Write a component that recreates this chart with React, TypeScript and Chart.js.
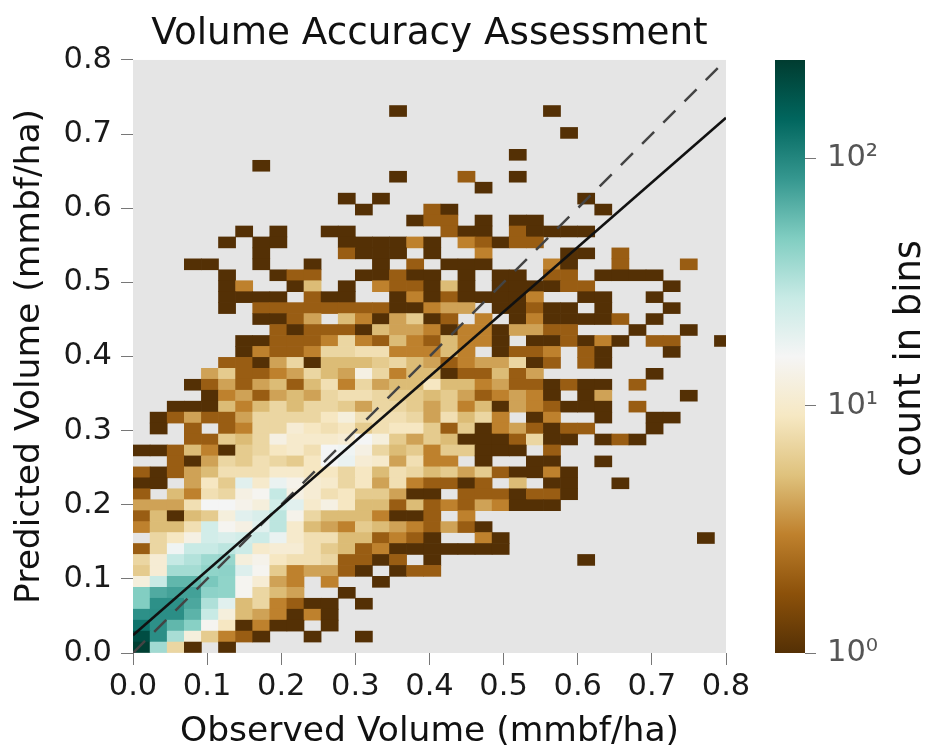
import React, { useEffect, useRef } from "react";
import { Chart, registerables } from "chart.js";

Chart.register(...registerables);

const chartTitle = "Volume Accuracy Assessment";
const xAxisTitle = "Observed Volume (mmbf/ha)";
const yAxisTitle = "Predicted Volume (mmbf/ha)";
const colorbarTitle = "count in bins";

const xBinWidth = 0.02307;
const yBinWidth = 0.01477;
const vmax = 250;

const oneToOneX = [0, 0.8];
const oneToOneY = [0, 0.8];
const fitX = [0, 0.8];
const fitY = [0.024, 0.722];

const colorbarTicks = [1, 10, 100];
const colorbarTickLabels = ["10\u2070", "10\u00B9", "10\u00B2"];

const brbg = ["#543005", "#8c510a", "#bf812d", "#dfc27d", "#f6e8c3", "#f5f5f5", "#c7eae5", "#80cdc1", "#35978f", "#01665e", "#003c30"];

// first list is the row whose lower edge is 49 bins above zero, last list is the bottom row
const counts: number[][] = [
  [0,0,0,0,0, 0,0,0,0,0, 0,0,0,0,0, 1,0,0,0,0, 0,0,0,0,1, 0,0,0,0,0, 0,0,0,0,0],
  [0,0,0,0,0, 0,0,0,0,0, 0,0,0,0,0, 0,0,0,0,0, 0,0,0,0,0, 0,0,0,0,0, 0,0,0,0,0],
  [0,0,0,0,0, 0,0,0,0,0, 0,0,0,0,0, 0,0,0,0,0, 0,0,0,0,0, 1,0,0,0,0, 0,0,0,0,0],
  [0,0,0,0,0, 0,0,0,0,0, 0,0,0,0,0, 0,0,0,0,0, 0,0,0,0,0, 0,0,0,0,0, 0,0,0,0,0],
  [0,0,0,0,0, 0,0,0,0,0, 0,0,0,0,0, 0,0,0,0,0, 0,0,1,0,0, 0,0,0,0,0, 0,0,0,0,0],
  [0,0,0,0,0, 0,0,1,0,0, 0,0,0,0,0, 0,0,0,0,0, 0,0,0,0,0, 0,0,0,0,0, 0,0,0,0,0],
  [0,0,0,0,0, 0,0,0,0,0, 0,0,0,0,0, 1,0,0,0,2, 0,0,1,0,0, 0,0,0,0,0, 0,0,0,0,0],
  [0,0,0,0,0, 0,0,0,0,0, 0,0,0,0,0, 0,0,0,0,0, 1,0,0,0,0, 0,0,0,0,0, 0,0,0,0,0],
  [0,0,0,0,0, 0,0,0,0,0, 0,0,1,0,1, 0,0,0,0,0, 0,0,0,0,0, 0,1,0,0,0, 0,0,0,0,0],
  [0,0,0,0,0, 0,0,0,0,0, 0,0,0,1,0, 0,0,2,1,0, 0,0,0,0,0, 0,0,1,0,0, 0,0,0,0,0],
  [0,0,0,0,0, 0,0,0,0,0, 0,0,0,0,0, 0,1,2,2,0, 1,0,1,1,0, 0,0,0,0,0, 0,0,0,0,0],
  [0,0,0,0,0, 0,1,0,1,0, 0,1,1,0,0, 0,0,0,2,1, 1,0,2,1,1, 1,1,0,0,0, 0,0,0,0,0],
  [0,0,0,0,0, 1,0,1,1,0, 0,0,1,1,1, 1,3,1,0,3, 2,1,2,2,0, 0,0,0,0,0, 0,0,0,0,0],
  [0,0,0,0,0, 0,0,1,0,0, 0,0,2,1,1, 1,0,1,0,0, 3,0,0,0,0, 1,1,0,2,0, 0,0,0,0,0],
  [0,0,0,1,1, 0,0,1,0,0, 1,0,0,0,1, 0,2,0,1,1, 1,0,0,0,3, 1,0,0,2,0, 0,0,2,0,0],
  [0,0,0,0,0, 1,0,0,1,2, 2,0,0,1,1, 2,1,1,0,1, 0,1,1,0,2, 2,0,1,1,1, 1,0,0,0,0],
  [0,0,0,0,0, 1,3,0,0,1, 5,0,1,0,3, 2,2,1,5,1, 0,1,1,1,1, 2,2,0,0,0, 0,1,0,0,0],
  [0,0,0,0,0, 1,1,1,1,0, 2,1,1,0,0, 1,3,1,2,1, 1,1,1,3,0, 0,1,1,0,0, 1,0,0,0,0],
  [0,0,0,0,0, 1,0,2,2,2, 2,2,2,2,2, 1,1,3,4,4, 0,1,1,2,1, 1,0,1,0,0, 0,1,0,0,0],
  [0,0,0,0,0, 0,0,1,1,2, 4,0,5,3,1, 4,6,1,2,0, 3,0,1,3,1, 1,1,1,2,0, 1,0,0,0,0],
  [0,0,0,0,0, 0,0,0,2,1, 2,2,2,1,5, 4,4,3,1,3, 3,1,4,4,2, 2,0,0,0,1, 0,0,1,0,0],
  [0,0,0,0,0, 0,1,1,2,2, 2,3,7,3,2, 5,3,2,5,3, 3,1,0,1,1, 2,1,3,1,0, 2,2,0,0,1],
  [0,0,0,0,0, 0,1,3,2,2, 3,7,7,8,8, 3,3,3,5,3, 0,1,2,2,3, 0,2,1,0,0, 0,1,0,0,0],
  [0,0,0,0,0, 2,2,1,4,7, 1,5,5,5,6, 7,5,4,2,3, 4,4,7,1,2, 0,2,1,0,0, 0,0,0,0,0],
  [0,0,0,0,4, 6,2,2,3,4, 7,5,4,13,7, 3,5,5,1,2, 2,5,2,4,0, 0,0,0,0,0, 1,0,0,0,0],
  [0,0,0,1,2, 4,2,4,5,2, 5,8,3,7,4, 5,5,9,5,5, 3,4,2,2,1, 2,1,1,0,2, 0,0,0,0,0],
  [0,0,0,0,1, 3,4,2,4,5, 4,7,8,8,7, 6,6,5,6,4, 2,3,4,3,1, 0,1,4,0,0, 0,0,1,0,0],
  [0,0,1,1,1, 5,3,5,7,5, 7,7,6,4,7, 7,6,4,6,3, 5,1,4,3,2, 1,1,1,0,2, 0,0,0,0,0],
  [0,1,2,4,2, 2,4,7,7,7, 7,9,12,8,8, 8,7,4,8,5, 7,3,0,1,3, 0,0,1,0,0, 1,1,0,0,0],
  [0,1,0,2,0, 2,3,7,7,11, 9,8,9,6,8, 9,9,6,2,6, 1,3,4,2,1, 2,2,0,0,0, 1,0,0,0,0],
  [0,0,0,2,2, 6,5,7,13,10, 10,10,11,16,12, 6,4,6,5,1, 1,1,2,7,1, 1,0,1,2,1, 0,0,0,0,0],
  [1,1,2,5,3, 1,6,7,9,10, 8,16,17,13,7, 5,6,3,6,6, 1,1,1,0,2, 0,0,0,0,0, 0,0,0,0,0],
  [0,0,2,1,4, 7,6,8,7,6, 9,16,18,11,10, 4,8,3,3,0, 1,0,0,1,1, 0,0,1,0,0, 0,0,0,0,0],
  [2,1,2,4,5, 8,8,8,10,10, 9,9,7,9,5, 8,7,5,6,4, 6,2,1,1,3, 1,0,0,0,0, 0,0,0,0,0],
  [1,1,0,4,9, 6,20,10,18,14, 11,10,7,9,4, 8,3,2,2,1, 2,0,5,0,1, 1,0,0,1,0, 0,0,0,0,0],
  [2,0,5,3,8, 7,13,15,28,13, 11,8,9,6,6, 4,1,1,0,2, 2,2,1,2,2, 1,0,0,0,0, 0,0,0,0,0],
  [4,4,4,8,16, 16,14,12,24,20, 10,13,9,5,5, 2,5,2,3,2, 4,3,1,1,1, 0,0,0,0,0, 0,0,0,0,0],
  [2,5,1,5,6, 12,20,22,30,14, 7,5,5,5,3, 1,1,2,0,3, 0,0,0,0,0, 0,0,0,0,0, 0,0,0,0,0],
  [3,5,5,8,24, 15,13,20,30,10, 5,4,3,6,5, 4,3,2,4,2, 1,0,0,0,0, 0,0,0,0,0, 0,0,0,0,0],
  [0,7,9,13,24, 22,24,26,18,10, 8,8,5,5,2, 3,2,1,0,0, 3,1,0,0,0, 0,0,0,0,0, 0,0,0,1,0],
  [2,7,17,27,27, 30,26,10,11,11, 8,6,5,2,3, 1,1,1,1,1, 1,1,0,0,0, 0,0,0,0,0, 0,0,0,0,0],
  [7,11,28,32,38, 40,12,14,9,8, 8,7,2,2,1, 2,0,1,0,0, 0,0,0,0,0, 0,1,0,0,0, 0,0,0,0,0],
  [6,11,36,36,42, 43,21,15,6,3, 4,4,2,1,0, 1,2,2,0,0, 0,0,0,0,0, 0,0,0,0,0, 0,0,0,0,0],
  [12,27,60,60,50, 42,15,11,4,3, 0,3,0,0,1, 0,0,0,0,0, 0,0,0,0,0, 0,0,0,0,0, 0,0,0,0,0],
  [47,68,75,75,43, 42,15,7,5,4, 0,0,1,0,0, 0,0,0,0,0, 0,0,0,0,0, 0,0,0,0,0, 0,0,0,0,0],
  [47,90,90,70,33, 20,5,7,3,2, 1,1,0,1,0, 0,0,0,0,0, 0,0,0,0,0, 0,0,0,0,0, 0,0,0,0,0],
  [90,92,92,62,27, 12,5,4,3,1, 3,1,0,0,0, 0,0,0,0,0, 0,0,0,0,0, 0,0,0,0,0, 0,0,0,0,0],
  [125,90,60,45,15, 9,1,3,1,1, 0,1,0,0,0, 0,0,0,0,0, 0,0,0,0,0, 0,0,0,0,0, 0,0,0,0,0],
  [200,92,35,12,6, 3,2,1,0,0, 1,0,0,1,0, 0,0,0,0,0, 0,0,0,0,0, 0,0,0,0,0, 0,0,0,0,0],
  [240,37,7,1,0, 1,0,0,0,0, 0,0,0,0,0, 0,0,0,0,0, 0,0,0,0,0, 0,0,0,0,0, 0,0,0,0,0],
];

const FONT = "'DejaVu Sans', sans-serif";

function hexToRgb(h: string): number[] {
  return [1, 3, 5].map((i) => parseInt(h.slice(i, i + 2), 16));
}

function colorFor(v: number): string {
  const t = Math.min(1, Math.log(v) / Math.log(vmax)) * (brbg.length - 1);
  const i = Math.min(brbg.length - 2, Math.floor(t));
  const f = t - i;
  const a = hexToRgb(brbg[i]);
  const b = hexToRgb(brbg[i + 1]);
  return `rgb(${a.map((c, k) => Math.round(c + (b[k] - c) * f)).join(",")})`;
}

function cellData() {
  const cells: { x: number; y: number[]; v: number }[] = [];
  const nRows = counts.length;
  counts.forEach((row, i) => {
    const r = nRows - 1 - i;
    row.forEach((v, c) => {
      if (v > 0) cells.push({ x: (c + 0.5) * xBinWidth, y: [r * yBinWidth, (r + 1) * yBinWidth], v });
    });
  });
  return cells;
}

const plotBackground = {
  id: "plotBackground",
  beforeDraw(chart: any) {
    const { ctx, chartArea: a } = chart;
    ctx.save();
    ctx.fillStyle = "#e5e5e5";
    ctx.fillRect(a.left, a.top, a.right - a.left, a.bottom - a.top);
    ctx.restore();
  },
};

const colorbarLabel = {
  id: "colorbarLabel",
  afterDraw(chart: any) {
    const { ctx, chartArea: a } = chart;
    ctx.save();
    ctx.translate(160, (a.top + a.bottom) / 2 + 2);
    ctx.rotate(-Math.PI / 2);
    ctx.font = `36.8px ${FONT}`;
    ctx.fillStyle = "#111";
    ctx.textAlign = "center";
    ctx.textBaseline = "alphabetic";
    ctx.fillText(colorbarTitle, 0, 0);
    ctx.restore();
  },
};

export default function App() {
  const mainRef = useRef<HTMLCanvasElement>(null);
  const barRef = useRef<HTMLCanvasElement>(null);

  useEffect(() => {
    const tick = { size: 30.5, family: FONT };
    const axisTitleFont = { size: 34.5, family: FONT, lineHeight: 0.85 };
    const axisGrid = { drawOnChartArea: false, drawTicks: true, tickLength: 12, color: "#777", lineWidth: 1 };

    const main = new Chart(mainRef.current!, {
      type: "bar",
      data: {
        datasets: [
          {
            type: "line",
            data: oneToOneX.map((x, i) => ({ x, y: oneToOneY[i] })),
            borderColor: "#444",
            borderWidth: 2.5,
            borderDash: [17, 13],
            pointRadius: 0,
            order: 1,
          },
          {
            type: "line",
            data: fitX.map((x, i) => ({ x, y: fitY[i] })),
            borderColor: "#111",
            borderWidth: 2.5,
            pointRadius: 0,
            order: 0,
          },
          {
            type: "bar",
            data: cellData(),
            backgroundColor: (c: any) => colorFor(c.raw ? c.raw.v : 1),
            borderWidth: 0,
            barThickness: 17.1,
            grouped: false,
            clip: 0,
            order: 2,
          },
        ] as any,
      },
      options: {
        responsive: false,
        animation: false,
        events: [],
        layout: { padding: { right: 34, left: 0, top: 0, bottom: 0 } },
        plugins: {
          legend: { display: false },
          tooltip: { enabled: false },
          title: {
            display: true,
            text: chartTitle,
            fullSize: false,
            color: "#111",
            font: { size: 37.3, family: FONT, weight: "normal", lineHeight: 1.2 },
            padding: { top: 12, bottom: 3.2 },
          },
        },
        scales: {
          x: {
            type: "linear",
            min: 0,
            max: 0.8,
            offset: false,
            grid: { ...axisGrid, offset: false },
            border: { display: false },
            afterFit: (s: any) => { s.height = 94; },
            ticks: { stepSize: 0.1, autoSkip: false, maxRotation: 0, font: tick, color: "#1a1a1a", padding: 4, callback: (v: any) => Number(v).toFixed(1) },
            title: { display: true, text: xAxisTitle, color: "#111", font: axisTitleFont, padding: 0 },
          },
          y: {
            type: "linear",
            min: 0,
            max: 0.8,
            grid: axisGrid,
            border: { display: false },
            afterFit: (s: any) => { s.width = 133; },
            ticks: { stepSize: 0.1, autoSkip: false, font: tick, color: "#1a1a1a", padding: 9, callback: (v: any) => Number(v).toFixed(1) },
            title: { display: true, text: yAxisTitle, color: "#111", font: axisTitleFont, padding: 15 },
          },
        },
      } as any,
      plugins: [plotBackground],
    });

    const bar = new Chart(barRef.current!, {
      type: "bar",
      data: {
        labels: ["count"],
        datasets: [
          {
            data: [[1, vmax]],
            barPercentage: 1,
            categoryPercentage: 1,
            borderWidth: 0,
            backgroundColor: (c: any) => {
              const a = c.chart.chartArea;
              if (!a) return "#000";
              const g = c.chart.ctx.createLinearGradient(0, a.bottom, 0, a.top);
              brbg.forEach((col, i) => g.addColorStop(i / (brbg.length - 1), col));
              return g;
            },
          },
        ] as any,
      },
      options: {
        responsive: false,
        animation: false,
        events: [],
        layout: { padding: { left: 15, top: 60, bottom: 94, right: 0 } },
        plugins: { legend: { display: false }, tooltip: { enabled: false } },
        scales: {
          x: { display: false },
          y: {
            type: "logarithmic",
            position: "right",
            min: 1,
            max: vmax,
            grid: { drawOnChartArea: false, drawTicks: true, tickLength: 11, color: "#777", lineWidth: 1 },
            border: { display: false },
            afterBuildTicks: (s: any) => { s.ticks = colorbarTicks.map((value) => ({ value })); },
            afterFit: (s: any) => { s.width = 122; },
            ticks: {
              font: { size: 30.5, family: FONT },
              color: "#555",
              padding: 11,
              autoSkip: false,
              callback: (v: any) => colorbarTickLabels[colorbarTicks.indexOf(Number(v))] ?? "",
            },
          },
        },
      } as any,
      plugins: [colorbarLabel],
    });

    return () => {
      main.destroy();
      bar.destroy();
    };
  }, []);

  return (
    <div style={{ position: "absolute", left: 0, top: 0, width: 927, height: 747, background: "#fff" }}>
      <canvas ref={mainRef} width={760} height={747} style={{ position: "absolute", left: 0, top: 0 }} />
      <canvas ref={barRef} width={167} height={747} style={{ position: "absolute", left: 760, top: 0 }} />
    </div>
  );
}
